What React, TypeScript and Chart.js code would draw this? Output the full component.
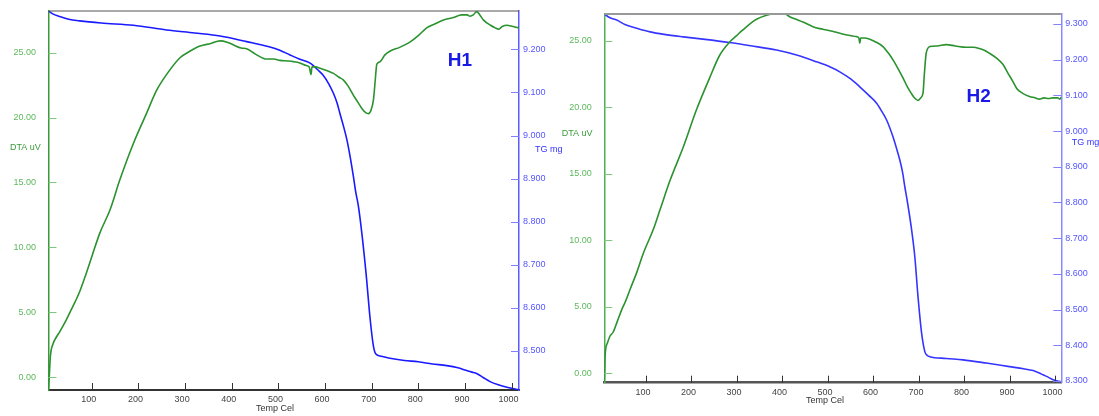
import React, { useEffect, useRef } from 'react';
import { Chart, registerables } from 'chart.js';

Chart.register(...registerables);

const FONT = '"Liberation Sans", Arial, sans-serif';

// ---------- Data: H1 ----------
const h1DtaTemp = [7, 9, 11, 17, 24, 31, 42, 53, 64, 74, 87, 100, 117, 139, 160, 189, 217, 239, 260, 289, 310, 332, 355, 375, 390, 403, 420, 432, 450, 475, 490, 503, 520, 532, 546, 560, 566, 570, 572, 580, 589, 605, 618, 630, 639, 650, 661, 670, 679, 688, 693, 699, 704, 708, 711, 718, 728, 739, 760, 782, 800, 818, 835, 854, 875, 893, 905, 911, 918, 925, 932, 940, 955, 965, 972, 980, 990, 1003, 1016];
const h1DtaValues = [-0.9, 0.3, 1.6, 2.6, 3.1, 3.5, 4.2, 5.0, 5.8, 6.6, 7.9, 9.3, 11.1, 12.9, 15.2, 18.0, 20.3, 22.1, 23.3, 24.6, 25.1, 25.5, 25.7, 25.9, 25.8, 25.6, 25.35, 25.3, 24.9, 24.5, 24.5, 24.4, 24.35, 24.3, 24.2, 24.0, 23.9, 23.3, 23.9, 23.9, 23.8, 23.6, 23.4, 23.1, 22.9, 22.4, 21.7, 21.2, 20.7, 20.35, 20.3, 20.6, 21.4, 23.0, 24.1, 24.3, 24.8, 25.1, 25.4, 25.8, 26.3, 26.9, 27.2, 27.5, 27.7, 27.9, 27.9, 27.8, 27.9, 28.15, 27.9, 27.5, 27.1, 26.9, 26.8, 27.0, 27.1, 27.0, 26.9];
const h1TgTemp = [7, 15, 31, 50, 74, 120, 189, 260, 320, 375, 432, 480, 503, 525, 546, 568, 585, 596, 608, 618, 626, 632, 640, 647, 654, 661, 666, 671, 679, 688, 697, 704, 709, 720, 739, 770, 800, 830, 861, 885, 900, 915, 925, 940, 954, 970, 990, 1016];
const h1TgValues = [9.289, 9.283, 9.276, 9.270, 9.266, 9.261, 9.256, 9.245, 9.238, 9.231, 9.218, 9.206, 9.198, 9.187, 9.177, 9.168, 9.152, 9.140, 9.120, 9.098, 9.075, 9.051, 9.020, 8.990, 8.950, 8.904, 8.868, 8.840, 8.773, 8.680, 8.572, 8.510, 8.493, 8.488, 8.483, 8.478, 8.475, 8.470, 8.466, 8.461, 8.456, 8.451, 8.448, 8.438, 8.429, 8.422, 8.416, 8.410];
const h1TgTicks = [8.5, 8.6, 8.7, 8.8, 8.9, 9.0, 9.1, 9.2];

// ---------- Data: H2 ----------
const h2DtaTemp = [8.4, 9.5, 10, 15, 21, 28, 37, 47, 55, 65, 80, 94, 116, 131, 153, 182, 211, 240, 262, 284, 300, 313, 330, 343, 365, 380, 394, 405, 416, 430, 445, 467, 482, 497, 510, 526, 545, 563, 568, 570, 572, 580, 592, 605, 621, 632, 643, 654, 665, 675, 683, 690, 698, 704, 709, 712, 716, 724, 740, 760, 780, 804, 820, 833, 845, 855, 870, 885, 895, 907, 915, 921, 930, 943, 955, 965, 975, 985, 994, 1005, 1010, 1013];
const h2DtaValues = [-0.6, 0.5, 1.25, 2.25, 2.8, 3.1, 3.9, 4.8, 5.4, 6.3, 7.6, 9.0, 10.8, 12.3, 14.5, 17.0, 19.8, 22.2, 23.9, 24.9, 25.4, 25.8, 26.3, 26.6, 26.9, 27.0, 27.0, 27.0, 26.8, 26.6, 26.4, 26.05, 25.9, 25.8, 25.7, 25.55, 25.4, 25.3, 25.2, 24.8, 25.2, 25.2, 25.1, 24.9, 24.55, 24.1, 23.55, 22.9, 22.2, 21.5, 21.05, 20.7, 20.5, 20.7, 21.05, 22.5, 24.05, 24.55, 24.6, 24.7, 24.6, 24.5, 24.5, 24.4, 24.25, 24.05, 23.7, 23.2, 22.6, 21.9, 21.4, 21.2, 21.0, 20.8, 20.7, 20.6, 20.7, 20.65, 20.7, 20.7, 20.6, 20.75];
const h2TgTemp = [8.4, 20, 35.6, 55, 80, 109, 140, 182, 230, 284, 330, 387, 431, 475, 504, 526, 550, 570, 590, 607, 618, 629, 643, 650, 658, 664, 669, 674, 683, 691, 698, 706, 713, 718, 724, 760, 797, 848, 899, 930, 951, 965, 973, 985, 995, 1013];
const h2TgValues = [9.328, 9.318, 9.311, 9.298, 9.288, 9.278, 9.271, 9.264, 9.257, 9.248, 9.239, 9.227, 9.213, 9.194, 9.180, 9.166, 9.146, 9.124, 9.100, 9.078, 9.056, 9.031, 8.984, 8.955, 8.919, 8.885, 8.844, 8.807, 8.732, 8.648, 8.536, 8.433, 8.382, 8.372, 8.368, 8.363, 8.359, 8.350, 8.340, 8.334, 8.329, 8.322, 8.317, 8.310, 8.303, 8.297];
const h2TgTicks = [8.3, 8.4, 8.5, 8.6, 8.7, 8.8, 8.9, 9.0, 9.1, 9.2, 9.3];

// ---------- Shared ticks / labels ----------
const tempTicks = [100, 200, 300, 400, 500, 600, 700, 800, 900, 1000];
const dtaTicks = [0, 5, 10, 15, 20, 25];
const xTitle = 'Temp Cel';
const dtaTitle = 'DTA uV';
const tgTitle = 'TG mg';

const panels = [
  {
    label: 'H1',
    dtaT: h1DtaTemp, dta: h1DtaValues, tgT: h1TgTemp, tg: h1TgValues, tgTicks: h1TgTicks,
    xMin: 7, xMax: 1016, dtaMin: -0.98, dtaMax: 28.2, tgMin: 8.4095, tgMax: 9.289,
    canvasLeft: 0, canvasWidth: 570,
    area: { left: 48.5, right: 519, top: 11, bottom: 390 },
    topColor: '#555', topWidth: 1, bottomColor: '#333', bottomWidth: 2,
    leftAxisColor: '#3a9a3a', rightAxisColor: '#5a5aff',
    tgLine: '#1a1aff',
    dtaTitlePos: [10, 148], tgTitlePos: [535, 150], xTitlePos: [275, 409], labelPos: [460, 61],
  },
  {
    label: 'H2',
    dtaT: h2DtaTemp, dta: h2DtaValues, tgT: h2TgTemp, tg: h2TgValues, tgTicks: h2TgTicks,
    xMin: 8.4, xMax: 1013, dtaMin: -0.71, dtaMax: 27.0, tgMin: 8.295, tgMax: 9.328,
    canvasLeft: 555, canvasWidth: 544,
    area: { left: 49.3, right: 506.3, top: 14, bottom: 382.7 },
    topColor: '#999', topWidth: 2, bottomColor: '#555', bottomWidth: 2.5,
    leftAxisColor: '#4caf50', rightAxisColor: '#8a8aff',
    tgLine: '#3535ff',
    dtaTitlePos: [6.7, 134], tgTitlePos: [516.7, 143], xTitlePos: [270, 401], labelPos: [423.7, 97],
  },
];

const decor = {
  id: 'decor',
  afterDraw(chart: any, _args: any, o: any) {
    const ctx = chart.ctx;
    const { left, right, top, bottom } = chart.chartArea;
    const xs = chart.scales.x, yl = chart.scales.yDta, yr = chart.scales.yTg;
    ctx.save();
    // top frame line
    ctx.strokeStyle = o.topColor;
    ctx.lineWidth = o.topWidth;
    ctx.beginPath();
    ctx.moveTo(left, top);
    ctx.lineTo(right, top);
    ctx.stroke();
    // inward tick marks
    ctx.lineWidth = 1;
    ctx.strokeStyle = '#333';
    xs.ticks.forEach((t: any) => {
      const px = Math.round(xs.getPixelForValue(t.value)) + 0.5;
      ctx.beginPath(); ctx.moveTo(px, bottom); ctx.lineTo(px, bottom - 7); ctx.stroke();
    });
    ctx.strokeStyle = '#7cc87c';
    yl.ticks.forEach((t: any) => {
      const py = Math.round(yl.getPixelForValue(t.value)) + 0.5;
      ctx.beginPath(); ctx.moveTo(left, py); ctx.lineTo(left + 8, py); ctx.stroke();
    });
    ctx.strokeStyle = '#8080ff';
    yr.ticks.forEach((t: any) => {
      const py = Math.round(yr.getPixelForValue(t.value)) + 0.5;
      ctx.beginPath(); ctx.moveTo(right - 8, py); ctx.lineTo(right, py); ctx.stroke();
    });
    // axis titles
    ctx.font = `9px ${FONT}`;
    ctx.textBaseline = 'middle';
    ctx.textAlign = 'left';
    ctx.fillStyle = '#3a9a3a';
    ctx.fillText(o.dtaTitle, o.dtaTitlePos[0], o.dtaTitlePos[1]);
    ctx.fillStyle = '#3333ff';
    ctx.fillText(o.tgTitle, o.tgTitlePos[0], o.tgTitlePos[1]);
    ctx.textAlign = 'center';
    ctx.fillStyle = '#333';
    ctx.fillText(o.xTitle, o.xTitlePos[0], o.xTitlePos[1]);
    // panel label
    ctx.font = `bold 19px ${FONT}`;
    ctx.fillStyle = '#1a1ae6';
    ctx.fillText(o.label, o.labelPos[0], o.labelPos[1]);
    ctx.restore();
  },
};

const noPad = (s: any) => {
  s.paddingTop = 0;
  s.paddingBottom = 0;
  s.paddingLeft = 0;
  s.paddingRight = 0;
};

function Panel({ p }: { p: any }) {
  const ref = useRef<HTMLCanvasElement>(null);
  useEffect(() => {
    const H = 416;
    const W = p.canvasWidth;
    const chart = new Chart(ref.current as HTMLCanvasElement, {
      type: 'line',
      data: {
        datasets: [
          {
            label: dtaTitle,
            data: p.dtaT.map((t: number, i: number) => ({ x: t, y: p.dta[i] })),
            yAxisID: 'yDta',
            borderColor: '#2a922e',
            borderWidth: 1.6,
            pointRadius: 0,
            cubicInterpolationMode: 'monotone',
          },
          {
            label: tgTitle,
            data: p.tgT.map((t: number, i: number) => ({ x: t, y: p.tg[i] })),
            yAxisID: 'yTg',
            borderColor: p.tgLine,
            borderWidth: 1.6,
            pointRadius: 0,
            cubicInterpolationMode: 'monotone',
          },
        ],
      } as any,
      options: {
        responsive: false,
        animation: false,
        devicePixelRatio: 1,
        layout: { padding: { top: p.area.top, left: 0, right: 0, bottom: 0 } },
        plugins: {
          legend: { display: false },
          tooltip: { enabled: false },
          decor: {
            label: p.label, topColor: p.topColor, topWidth: p.topWidth,
            dtaTitle, tgTitle, xTitle,
            dtaTitlePos: p.dtaTitlePos, tgTitlePos: p.tgTitlePos, xTitlePos: p.xTitlePos, labelPos: p.labelPos,
          },
        } as any,
        scales: {
          x: {
            type: 'linear',
            position: 'bottom',
            min: p.xMin,
            max: p.xMax,
            afterBuildTicks: (s: any) => { s.ticks = tempTicks.map((v) => ({ value: v })); },
            afterFit: (s: any) => { s.height = H - p.area.bottom; noPad(s); },
            grid: { display: false, drawTicks: false },
            border: { display: true, color: p.bottomColor, width: p.bottomWidth },
            ticks: {
              font: { family: FONT, size: 9 },
              color: '#444',
              padding: 4,
              labelOffset: -3,
              maxRotation: 0,
              autoSkip: false,
              callback: (v: any) => String(v),
            },
          },
          yDta: {
            type: 'linear',
            position: 'left',
            min: p.dtaMin,
            max: p.dtaMax,
            afterBuildTicks: (s: any) => { s.ticks = dtaTicks.map((v) => ({ value: v })); },
            afterFit: (s: any) => { s.width = p.area.left; noPad(s); },
            grid: { display: false, drawTicks: false },
            border: { display: true, color: p.leftAxisColor, width: 1.5 },
            ticks: {
              font: { family: FONT, size: 9 },
              color: '#5cb85c',
              padding: 12.5,
              autoSkip: false,
              callback: (v: any) => Number(v).toFixed(2),
            },
          },
          yTg: {
            type: 'linear',
            position: 'right',
            min: p.tgMin,
            max: p.tgMax,
            afterBuildTicks: (s: any) => { s.ticks = p.tgTicks.map((v: number) => ({ value: v })); },
            afterFit: (s: any) => { s.width = W - p.area.right; noPad(s); },
            grid: { display: false, drawTicks: false },
            border: { display: true, color: p.rightAxisColor, width: 1.5 },
            ticks: {
              font: { family: FONT, size: 9 },
              color: '#5555ff',
              padding: 4,
              autoSkip: false,
              callback: (v: any) => Number(v).toFixed(3),
            },
          },
        },
      } as any,
      plugins: [decor as any],
    });
    return () => chart.destroy();
  }, []);
  return (
    <canvas
      ref={ref}
      width={p.canvasWidth}
      height={416}
      style={{ position: 'absolute', left: p.canvasLeft, top: 0, width: p.canvasWidth, height: 416 }}
    />
  );
}

export default function App() {
  return (
    <div style={{ position: 'fixed', left: 0, top: 0, width: 1099, height: 416, background: '#fff', overflow: 'hidden' }}>
      {panels.map((p) => (
        <Panel key={p.label} p={p} />
      ))}
    </div>
  );
}
